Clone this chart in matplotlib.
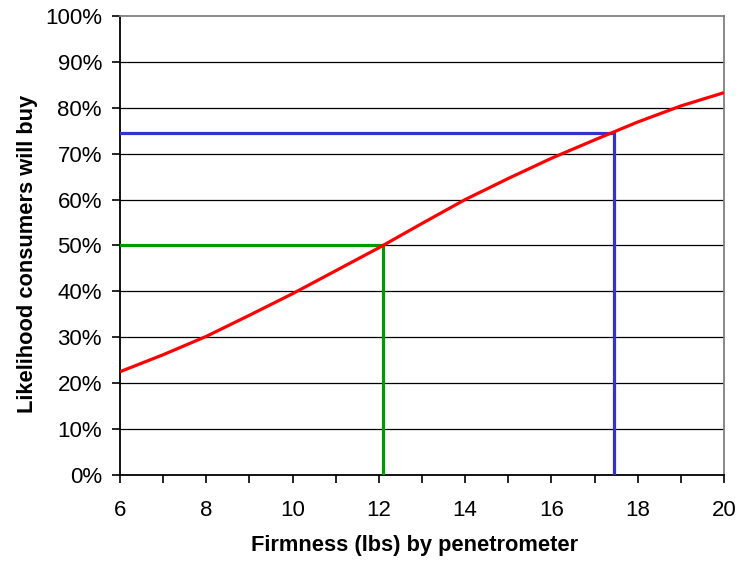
import matplotlib
matplotlib.use("Agg")
import matplotlib.pyplot as plt
from matplotlib.ticker import FixedLocator, FuncFormatter

plt.rcParams['font.family'] = ['Liberation Sans', 'DejaVu Sans']

# Purchase likelihood curve vs. firmness
firmness = [6, 7, 8, 9, 10, 11, 12, 13, 14, 15, 16, 17, 18, 19, 20]
likelihood = [22.5, 26.2, 30.2, 34.8, 39.5, 44.5, 49.5, 54.8, 60.0, 64.6, 69.0, 73.0, 76.9, 80.4, 83.3]

# Reference readings (firmness, likelihood)
green_ref = (12.1, 50.0)
blue_ref = (17.45, 74.5)

x_ticks = [6, 8, 10, 12, 14, 16, 18, 20]
y_ticks = [0, 10, 20, 30, 40, 50, 60, 70, 80, 90, 100]

fig = plt.figure(figsize=(7.38, 5.61), dpi=100)
ax = fig.add_axes([0.1626, 0.1533, 0.8184, 0.8182])

for y in y_ticks[1:-1]:
    ax.axhline(y, color='black', lw=0.9, zorder=1)

ax.plot(firmness, likelihood, color='#FF0000', lw=2.3, zorder=4, solid_capstyle='butt')

gx, gy = green_ref
ax.plot([6, gx, gx], [gy, gy, 0], color='#009900', lw=2.3, zorder=3, solid_joinstyle='miter')
bx, by = blue_ref
ax.plot([6, bx, bx], [by, by, 0], color='#3333CC', lw=2.3, zorder=3, solid_joinstyle='miter')

ax.set_xlim(6, 20)
ax.set_ylim(0, 100)
ax.xaxis.set_major_locator(FixedLocator(x_ticks))
ax.xaxis.set_minor_locator(FixedLocator(list(range(6, 21))))
ax.yaxis.set_major_locator(FixedLocator(y_ticks))
ax.yaxis.set_major_formatter(FuncFormatter(lambda v, p: f"{int(v)}%"))

ax.tick_params(axis='both', which='both', direction='out', length=6, width=1.2,
               color='black', labelsize=16)
ax.tick_params(axis='x', which='major', pad=12)
ax.tick_params(axis='y', which='major', pad=7)

for side in ('left', 'bottom'):
    ax.spines[side].set_color('black')
    ax.spines[side].set_linewidth(1.3)
for side in ('top', 'right'):
    ax.spines[side].set_color('#808080')
    ax.spines[side].set_linewidth(1.3)

ax.set_xlabel('Firmness (lbs) by penetrometer', fontsize=15.75, fontweight='bold', labelpad=10)
ax.set_ylabel('Likelihood consumers will buy', fontsize=15.75, fontweight='bold', labelpad=5)
ax.xaxis.label.set_x(0.488)
ax.yaxis.label.set_y(0.482)

fig.savefig('out.png', dpi=100)
